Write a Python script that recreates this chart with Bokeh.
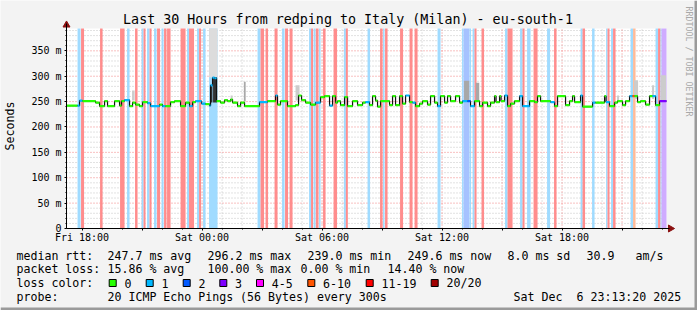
import math
from bokeh.plotting import figure
from bokeh.models import Range1d, FixedTicker, ColumnDataSource
from bokeh.core.properties import value
from bokeh.embed import file_html
from bokeh.resources import INLINE

FONT = "DejaVu Sans Mono"

# ---------------- data ----------------
# time in hours since Fri 00:00 ; window Fri 17:13:20 .. Sat 23:13:20
t_start, t_end = 17.2222, 47.2222
y_max = 394  # ms

loss_labels = ["0", "1", "2", "3", "4-5", "6-10", "11-19", "20/20"]
loss_colors = ["#26ff00", "#00b8ff", "#0059ff", "#7e00ff",
               "#ff00ff", "#ff5500", "#ff0000", "#a10000"]
loss_bg = ["#ffffff", "#a0dbff", "#a6c2ff", "#cfabff",
           "#ffaaff", "#ffbb99", "#ff8d8d", "#d98c8c"]

# median rtt (ms) as step segments, with loss class of each segment
med_start = [17.2222, 17.775, 17.875, 18.025, 18.675, 18.875, 19.125, 19.275, 19.625, 19.875,
             19.975, 20.125, 20.375, 20.525, 20.675, 20.875, 21.025, 21.275, 21.425, 21.875,
             22.025, 22.175, 22.425, 22.625, 22.925, 23.175, 23.375, 23.525, 23.675, 23.975,
             24.175, 24.375, 24.425, 24.525, 24.625, 24.725, 24.925, 25.125, 25.275, 25.425,
             25.525, 25.775, 25.925, 26.125, 26.875, 27.275, 27.675, 27.775, 27.925, 28.275,
             28.675, 28.825, 28.975, 29.175, 29.425, 29.675, 29.925, 30.125, 30.375, 30.525,
             30.675, 30.775, 30.925, 31.125, 31.275, 31.525, 31.775, 32.025, 32.175, 32.375,
             32.525, 32.675, 32.775, 32.925, 33.375, 33.525, 33.675, 33.875, 34.025, 34.175,
             34.375, 34.525, 34.675, 34.875, 35.025, 35.275, 35.425, 35.625, 35.775, 35.925,
             36.125, 36.275, 36.425, 36.675, 36.875, 37.025, 37.275, 37.425, 37.625, 37.875,
             38.025, 38.275, 38.425, 38.625, 38.700, 38.875, 38.950, 39.125, 39.275, 39.425,
             39.625, 39.875, 40.025, 40.375, 40.625, 40.775, 40.925, 41.425, 41.625, 41.775,
             42.175, 42.375, 42.525, 42.625, 42.925, 43.025, 43.525, 43.675, 44.125, 44.200,
             44.375, 44.625, 44.775, 45.025, 45.175, 45.375, 45.525, 45.625, 45.775, 45.925,
             46.175, 46.375, 46.525, 46.675, 46.875]
med_ms = [242, 242, 252, 251, 248, 241, 251, 241, 251, 242,
          251, 253, 241, 248, 244, 241, 249, 247, 241, 244,
          241, 241, 249, 251, 241, 248, 241, 249, 251, 246,
          245, 242, 282, 297, 296, 251, 248, 253, 251, 254,
          248, 241, 248, 241, 249, 251, 262, 244, 251, 241,
          243, 262, 253, 248, 244, 248, 259, 261, 242, 261,
          248, 251, 243, 259, 241, 251, 243, 248, 249, 243,
          261, 252, 240, 251, 243, 261, 243, 261, 246, 262,
          249, 248, 241, 246, 251, 244, 261, 248, 241, 261,
          248, 261, 251, 261, 248, 251, 251, 241, 251, 241,
          248, 241, 248, 261, 249, 261, 251, 262, 241, 246,
          251, 261, 241, 251, 249, 261, 251, 249, 241, 261,
          243, 251, 261, 249, 262, 240, 248, 248, 261, 249,
          241, 248, 251, 243, 251, 261, 261, 261, 249, 251,
          244, 261, 261, 243, 251]
med_loss = [0, 1, 1, 0, 0, 0, 0, 0, 0, 0,
            0, 1, 0, 0, 0, 0, 0, 1, 1, 0,
            1, 0, 0, 0, 0, 0, 1, 0, 1, 1,
            0, 1, 1, 1, 1, 0, 0, 0, 0, 0,
            0, 0, 0, 0, 1, 0, 1, 0, 0, 0,
            0, 0, 0, 0, 0, 1, 0, 0, 1, 0,
            0, 0, 0, 0, 0, 0, 0, 0, 1, 0,
            0, 0, 0, 0, 0, 0, 0, 0, 0, 1,
            0, 1, 0, 0, 0, 0, 0, 0, 1, 0,
            0, 0, 0, 0, 0, 1, 2, 1, 0, 0,
            0, 0, 0, 0, 0, 0, 0, 1, 0, 0,
            0, 1, 1, 0, 0, 0, 0, 1, 0, 0,
            0, 0, 0, 0, 1, 0, 1, 0, 0, 1,
            0, 0, 0, 0, 0, 1, 5, 0, 0, 0,
            0, 0, 1, 0, 3]

# packet-loss background bars (start, end in hours; loss class)
band_start = [17.775, 17.95, 18.90, 19.90, 20.25, 20.65, 20.975, 21.075, 21.25, 21.375,
              21.60, 21.75, 21.975, 22.10, 22.25, 22.925, 23.25, 23.35, 23.75, 23.85,
              24.05, 24.35, 26.775, 26.925, 27.175, 27.625, 28.00, 28.15, 28.375, 29.35,
              29.45, 29.575, 29.69, 29.85, 30.05, 30.575, 31.09, 31.19, 32.275, 32.90,
              33.05, 33.15, 33.90, 34.375, 34.625, 35.775, 37.00, 37.075, 37.375, 37.525,
              37.625, 37.975, 39.15, 39.275, 39.90, 40.025, 40.25, 40.575, 41.25, 41.60,
              42.925, 43.025, 43.50, 44.20, 44.275, 44.45, 44.55, 45.425, 45.55, 46.675,
              46.80, 46.925, 46.975]
band_end = [17.925, 18.10, 19.025, 20.125, 20.375, 20.775, 21.075, 21.175, 21.375, 21.475,
            21.725, 21.90, 22.075, 22.225, 22.425, 23.175, 23.35, 23.60, 23.85, 23.95,
            24.175, 24.775, 26.925, 27.10, 27.30, 27.775, 28.125, 28.30, 28.525, 29.45,
            29.55, 29.675, 29.825, 29.925, 30.175, 30.75, 31.19, 31.29, 32.40, 33.025,
            33.125, 33.275, 34.05, 34.525, 34.775, 35.925, 37.075, 37.375, 37.45, 37.625,
            37.725, 38.10, 39.275, 39.525, 40.025, 40.125, 40.425, 40.775, 41.40, 41.725,
            43.025, 43.15, 43.625, 44.275, 44.375, 44.55, 44.675, 45.55, 45.675, 46.80,
            46.925, 46.975, 47.2222]
band_loss = [1, 6, 6, 6, 1, 6, 1, 6, 1, 6,
             1, 6, 1, 6, 6, 6, 1, 6, 1, 6,
             1, 1, 1, 6, 6, 6, 1, 6, 6, 1,
             6, 1, 6, 1, 6, 6, 1, 6, 1, 6,
             1, 6, 6, 6, 6, 1, 1, 2, 1, 1,
             6, 6, 1, 6, 1, 6, 1, 6, 1, 6,
             1, 6, 1, 1, 6, 1, 6, 1, 5, 1,
             6, 1, 3]

# smoke (ping spread) : start, end, low ms, high ms, density (0 = unknown area)
smoke_start = [20.50, 24.35, 24.40, 24.55, 25.43, 26.09, 28.675, 37.10, 37.69, 44.75, 45.60, 46.50, 46.95]
smoke_end = [20.63, 24.775, 24.52, 24.75, 25.53, 26.18, 28.875, 37.36, 37.86, 44.85, 45.80, 46.60, 47.20]
smoke_lo = [252, 298, 248, 248, 250, 250, 252, 250, 250, 250, 255, 255, 252]
smoke_hi = [272, 394, 282, 298, 262, 289, 282, 291, 287, 262, 292, 282, 302]
smoke_density = [1, 0, 3, 3, 1, 2, 1, 2, 2, 1, 1, 1, 1]

x_major = [18, 21, 24, 27, 30, 33, 36, 39, 42, 45]
x_labels = {18: "Fri 18:00", 24: "Sat 00:00", 30: "Sat 06:00", 36: "Sat 12:00", 42: "Sat 18:00"}
y_major = [0, 50, 100, 150, 200, 250, 300, 350]
y_labels = ["0", "50 m", "100 m", "150 m", "200 m", "250 m", "300 m", "350 m"]

title_text = "Last 30 Hours from redping to Italy (Milan) - eu-south-1"
rtt_row = ["median rtt:", "247.7 ms avg", "296.2 ms max", "239.0 ms min",
           "249.6 ms now", "8.0 ms sd", "30.9", "am/s"]
loss_row = ["packet loss:", "15.86 % avg", "100.00 % max", "0.00 % min", "14.40 % now"]
probe_row = ["probe:", "20 ICMP Echo Pings (56 Bytes) every 300s", "Sat Dec", "6 23:13:20 2025"]

# ---------------- layout helpers (canvas pixel -> data) ----------------
W, H = 697, 310
X0, Y0 = 66, 228          # canvas position of (t_start, 0 ms)
PX_PER_H = 20.0
PX_PER_MS = 200.0 / y_max


def tx(x):
    return t_start + (x - X0) / PX_PER_H


def my(y):
    return (Y0 - y) / PX_PER_MS


BG = "#f3f3f3"
p = figure(width=W, height=H, title=None,
           x_range=Range1d(tx(0), tx(W)), y_range=Range1d(my(H), my(0)),
           output_backend="svg", toolbar_location=None, min_border=0,
           background_fill_color=BG, border_fill_color=BG,
           outline_line_color=None)
p.grid.visible = False

# white graph area
p.quad(left=[t_start], right=[t_end], bottom=[0], top=[y_max],
       fill_color="white", line_color=None)

# grid (dotted)
minor_x = [h for h in range(18, 48) if h not in x_major]
minor_y = [v for v in range(10, y_max, 10) if v % 50]
p.segment(x0=minor_x, y0=0, x1=minor_x, y1=y_max, line_color="#c4c4c4", line_dash="1 2")
p.segment(x0=t_start, y0=minor_y, x1=t_end, y1=minor_y, line_color="#c4c4c4", line_dash="1 2")
p.segment(x0=x_major, y0=0, x1=x_major, y1=y_max, line_color="#f08080", line_dash="1 2")
p.segment(x0=t_start, y0=y_major[1:], x1=t_end, y1=y_major[1:], line_color="#f08080", line_dash="1 2")

# loss bars
bsrc = ColumnDataSource(dict(l=band_start, r=band_end, c=[loss_bg[k] for k in band_loss]))
p.quad(left="l", right="r", bottom=0, top=y_max, source=bsrc, fill_color="c", line_color=None)

# smoke
shade = {0: "#dcdcdc", 1: "#cccccc", 2: "#a8a8a8", 3: "#333333"}
ssrc = ColumnDataSource(dict(l=smoke_start, r=smoke_end, b=smoke_lo, t=smoke_hi,
                             c=[shade[d] for d in smoke_density]))
p.quad(left="l", right="r", bottom="b", top="t", source=ssrc, fill_color="c", line_color=None)

# median: black step line + loss-coloured marks
med_end = med_start[1:] + [t_end]
xs, ys = [], []
for s, e, v in zip(med_start, med_end, med_ms):
    xs += [s, e]
    ys += [v, v]
p.line(xs, ys, line_color="#111111", line_width=1.2)
msrc = ColumnDataSource(dict(l=med_start, r=med_end,
                             b=[v - 2.2 for v in med_ms], t=[v + 2.2 for v in med_ms],
                             c=[loss_colors[k] for k in med_loss]))
p.quad(left="l", right="r", bottom="b", top="t", source=msrc, fill_color="c", line_color=None)

# axes (drawn at fixed locations inside the full-canvas frame)
for ax in (p.xaxis, p.yaxis):
    ax.axis_line_color = "black"
    ax.major_tick_line_color = "black"
    ax.minor_tick_line_color = "black"
    ax.major_tick_in = 0
    ax.minor_tick_in = 0
    ax.major_label_text_font = FONT
    ax.major_label_text_font_size = "10px"
    ax.major_label_text_color = "black"

p.xaxis.fixed_location = 0
p.xaxis.ticker = FixedTicker(ticks=x_major, minor_ticks=list(range(18, 48)))
p.xaxis.major_label_overrides = {h: x_labels.get(h, "") for h in x_major}
p.xaxis.major_tick_out = 2
p.xaxis.minor_tick_out = 1
p.xaxis.major_label_standoff = 1
p.xaxis.bounds = (t_start, tx(669))

p.yaxis.fixed_location = t_start
p.yaxis.ticker = FixedTicker(ticks=y_major, minor_ticks=list(range(0, y_max, 10)))
p.yaxis.major_label_overrides = {v: s for v, s in zip(y_major, y_labels)}
p.yaxis.major_tick_out = 2
p.yaxis.minor_tick_out = 1
p.yaxis.major_label_standoff = 3
p.yaxis.bounds = (0, my(23))
p.yaxis.axis_label = "Seconds"
p.yaxis.axis_label_text_font = FONT
p.yaxis.axis_label_text_font_size = "11.6px"
p.yaxis.axis_label_text_font_style = "normal"
p.yaxis.axis_label_text_color = "black"
p.yaxis.axis_label_standoff = 11

# arrow heads
p.scatter(x=[t_start], y=[my(24.5)], marker="triangle", size=7,
          fill_color="#8b1010", line_color="#8b1010")
p.scatter(x=[tx(670)], y=[0], marker="triangle", size=7, angle=-math.pi / 2,
          fill_color="#8b1010", line_color="#8b1010")

# title and watermark
p.text(x=[tx(347.5)], y=[my(18.5)], text=[title_text], text_font=value(FONT),
       text_font_size=value("13.35px"), text_color="black",
       text_align="center", text_baseline="middle")
p.text(x=[tx(688.5)], y=[my(61)], text=["RRDTOOL / TOBI OETIKER"], text_font=value(FONT),
       text_font_size=value("8.3px"), text_color="#a8a8a8", angle=-math.pi / 2,
       text_align="center", text_baseline="middle")


# legend rows
def row(texts, xpos, yc):
    p.text(x=[tx(x) for x in xpos], y=[my(yc)] * len(texts), text=texts,
           text_font=value(FONT), text_font_size=value("11.6px"), text_color="black",
           text_align="left", text_baseline="middle")


row(rtt_row, [16, 107, 207, 307, 407, 507, 586, 635], 255)
row(loss_row, [16, 107, 207, 300, 387], 268.5)
sw_x = [108.7, 145.7, 182.7, 219.3, 256, 307.3, 365.7, 430.7]
row(["loss color:"] + loss_labels, [16] + [x + 15.3 for x in sw_x], 282.5)
p.quad(left=[tx(x) for x in sw_x], right=[tx(x + 7) for x in sw_x],
       top=[my(279)] * 8, bottom=[my(286)] * 8,
       fill_color=loss_colors, line_color="black", line_width=1)
row(probe_row, [16, 107, 513, 576], 296)

# shaded canvas edges
p.quad(left=[tx(694)], right=[tx(W)], bottom=[my(H)], top=[my(0)], fill_color="#9a9a9a", line_color=None)
p.quad(left=[tx(0)], right=[tx(W)], bottom=[my(H)], top=[my(307)], fill_color="#9a9a9a", line_color=None)

open("out.html", "w").write(file_html(p, INLINE))
